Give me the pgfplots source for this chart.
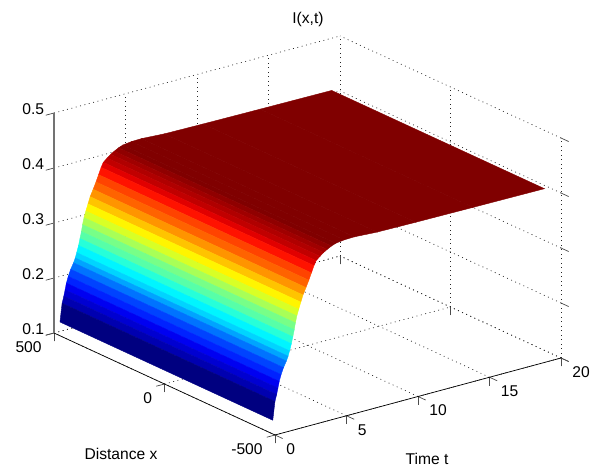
\documentclass[border=0pt]{standalone}
\usepackage{pgfplots}
\pgfplotsset{compat=1.18}
\usepackage{fontspec}
\setmainfont{Liberation Sans}
\pgfplotsset{colormap/jet}
\begin{document}
\begin{tikzpicture}[x=1pt,y=1pt]
\path[use as bounding box] (0,0) rectangle (592,468);
\begin{axis}[
  disabledatascaling,
  at={(164.5pt,84pt)},anchor=origin,
  x={(14.3pt,3.85pt)},y={(-0.221pt,0.102pt)},z={(0pt,550pt)},
  xmin=0,xmax=20,ymin=-500,ymax=500,zmin=0.1,zmax=0.5,
  clip=false,
  xtick={0,5,10,15,20},ytick={-500,0,500},ztick={0.1,0.2,0.3,0.4,0.5},
  yticklabels={-500,0,500},
  /pgf/number format/assume math mode=true,
  /pgf/number format/fixed,/pgf/number format/precision=1,
  grid=major,
  major grid style={black!85,line width=0.7pt,dash pattern=on 0.9pt off 3.6pt},
  axis line style={draw=none},
  tick pos=left,
  tick align=outside,major tick length=8.5pt,
  tick style={black!70,line width=0.7pt},
  font=\fontsize{15.6}{18}\selectfont,
  xticklabel style={anchor=west,inner sep=0pt,xshift=3.5pt,yshift=-10.5pt},
  yticklabel style={anchor=east,inner sep=0pt,xshift=-4pt,yshift=-12pt},
  zticklabel style={anchor=east,inner sep=0pt,xshift=-2pt,yshift=0.5pt},
  xlabel={Time t},ylabel={Distance x},title={I(x,t)},
  xlabel style={at={(axis cs:0,-500,0.1)},anchor=center,rotate=0,xshift=152pt,yshift=-24pt,font=\fontsize{15.6}{18}\selectfont},
  ylabel style={at={(axis cs:0,-500,0.1)},anchor=center,rotate=0,xshift=-154pt,yshift=-19pt,font=\fontsize{15.6}{18}\selectfont},
  title style={at={(axis cs:0,-500,0.1)},anchor=center,xshift=33pt,yshift=410pt,font=\fontsize{15.6}{18}\selectfont},
  colormap={jetsixtyfour}{samples of colormap=(64 of jet)},
  colormap access=piecewise constant,
  point meta min=0.125,point meta max=0.416,
]
\addplot3[surf,shader=flat corner,point meta=\thisrow{c}] table[row sep=crcr] {
t x z c\\
0 -490 .125 .125\\ 0 473 .125 .125\\ \\
.15 -490 .158 .139\\ .15 473 .158 .139\\ \\
.27 -490 .170 .150\\ .27 473 .170 .150\\ \\
.36 -490 .181 .161\\ .36 473 .181 .161\\ \\
.45 -490 .1925 .173\\ .45 473 .1925 .173\\ \\
.58 -490 .204 .184\\ .58 473 .204 .184\\ \\
.75 -490 .2155 .196\\ .75 473 .2155 .196\\ \\
.95 -490 .226 .209\\ .95 473 .226 .209\\ \\
1.07 -490 .234 .222\\ 1.07 473 .234 .222\\ \\
1.17 -490 .243 .234\\ 1.17 473 .243 .234\\ \\
1.30 -490 .255 .246\\ 1.30 473 .255 .246\\ \\
1.40 -490 .267 .258\\ 1.40 473 .267 .258\\ \\
1.50 -490 .279 .270\\ 1.50 473 .279 .270\\ \\
1.58 -490 .291 .283\\ 1.58 473 .291 .283\\ \\
1.68 -490 .303 .296\\ 1.68 473 .303 .296\\ \\
1.81 -490 .314 .309\\ 1.81 473 .314 .309\\ \\
1.96 -490 .326 .322\\ 1.96 473 .326 .322\\ \\
2.11 -490 .338 .335\\ 2.11 473 .338 .335\\ \\
2.32 -490 .350 .348\\ 2.32 473 .350 .348\\ \\
2.52 -490 .362 .361\\ 2.52 473 .362 .361\\ \\
2.70 -490 .374 .374\\ 2.70 473 .374 .374\\ \\
2.88 -490 .386 .386\\ 2.88 473 .386 .386\\ \\
3.03 -490 .394 .394\\ 3.03 473 .394 .394\\ \\
3.30 -490 .400 .400\\ 3.30 473 .400 .400\\ \\
3.55 -490 .405 .405\\ 3.55 473 .405 .405\\ \\
3.80 -490 .409 .409\\ 3.80 473 .409 .409\\ \\
4.10 -490 .413 .413\\ 4.10 473 .413 .413\\ \\
4.40 -490 .416 .416\\ 4.40 473 .416 .416\\ \\
5.0 -490 .418 .418\\ 5.0 473 .418 .418\\ \\
5.7 -490 .4185 .4185\\ 5.7 473 .4185 .4185\\ \\
7.3 -490 .416 .416\\ 7.3 473 .416 .416\\ \\
10 -490 .415 .415\\ 10 473 .415 .415\\ \\
14 -490 .414 .414\\ 14 473 .414 .414\\ \\
19 -490 .413 .413\\ 19 473 .413 .413\\
};
\addplot3[black,line width=0.7pt] coordinates {(0,500,0.1) (0,-500,0.1) (20,-500,0.1)};
\addplot3[black!55,line width=1.1pt] coordinates {(0,500,0.1) (0,500,0.5)};
\end{axis}
\end{tikzpicture}
\end{document}
